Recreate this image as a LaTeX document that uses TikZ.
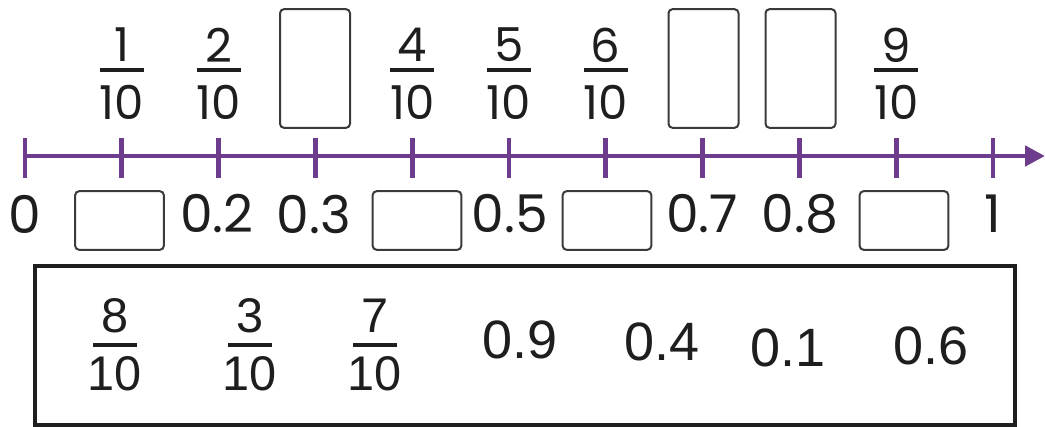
\documentclass[tikz,border=0pt]{standalone}
\usepackage{fontspec}
\setmainfont{Poppins}
\newfontfamily\arialf{Liberation Sans}
\usetikzlibrary{arrows.meta}
\definecolor{axispurple}{HTML}{6E3C8C}
\definecolor{boxgray}{HTML}{3A3A3A}
\definecolor{inkblack}{HTML}{1E1E1E}
\begin{document}
\begin{tikzpicture}[x=0.75pt,y=-0.75pt,
  topnum/.style={font=\fontsize{35}{35}\selectfont, inner sep=0pt, text=inkblack},
  botlab/.style={font=\fontsize{39}{39}\selectfont, inner sep=0pt, text=inkblack},
  fracbar/.style={line width=3pt, draw=inkblack},
  tickline/.style={line width=3.6pt, draw=axispurple},
  axisline/.style={line width=3.6pt, draw=axispurple, -{Triangle[length=15pt,width=15pt]}},
  tallbox/.style={draw=boxgray, line width=1.5pt, rounded corners=3pt, minimum width=52.5pt, minimum height=89pt, inner sep=0pt},
  widebox/.style={draw=boxgray, line width=1.5pt, rounded corners=3pt, minimum width=66.5pt, minimum height=44pt, inner sep=0pt},
  bigbox/.style={draw=inkblack, line width=3pt},
  boxfrac/.style={font=\arialf\fontsize{36.5}{36.5}\selectfont, inner sep=0pt, text=inkblack},
  boxdec/.style={font=\arialf\fontsize{40.5}{40.5}\selectfont, inner sep=0pt, text=inkblack},
  boxbar/.style={line width=2.4pt, draw=inkblack}]
\useasboundingbox (0,0) rectangle (1045,427);

% number line
\coordinate (axstart) at (25,156);
\coordinate (axend) at (1045,156);
\draw[axisline] (axstart) -- (axend);
\foreach \k in {0,...,10}{
  \draw[tickline] ({25+96.8*\k},138) -- ({25+96.8*\k},178);
}

% fractions above the line
\foreach \k in {1,2,4,5,6,9}{
  \node[topnum] (tn\k) at ({25+96.8*\k},45) {\k};
  \draw[fracbar] ({25+96.8*\k-22},70) -- ({25+96.8*\k+22},70);
  \node[topnum] (td\k) at ({25+96.8*\k},102) {10};
}

% empty boxes above the line
\node[tallbox] (tb3) at (315,68.5) {};
\node[tallbox] (tb7) at (703.5,68.5) {};
\node[tallbox] (tb8) at (800.5,68.5) {};

% labels below the line
\node[botlab] (l0) at (25,214) {0};
\node[botlab] (l2) at (217,214) {0.2};
\node[botlab] (l3) at (314,214) {0.3};
\node[botlab] (l5) at (510,214) {0.5};
\node[botlab] (l7) at (702,214) {0.7};
\node[botlab] (l8) at (800,214) {0.8};
\node[botlab] (l10) at (993,214) {1};

% empty boxes below the line
\node[widebox] (bb1) at (119.5,220.5) {};
\node[widebox] (bb4) at (417,220.5) {};
\node[widebox] (bb6) at (607,220.5) {};
\node[widebox] (bb9) at (904,220.5) {};

% answer bank box
\draw[bigbox] (35,266) rectangle (1015,425);
\foreach \n/\x in {8/115,3/250,7/375}{
  \node[boxfrac] (cn\n) at (\x,315.5) {\n};
  \draw[boxbar] ({\x-22},345) -- ({\x+22},345);
  \node[boxfrac] (cd\n) at (\x,373.5) {10};
}
\node[boxdec] (d9) at (520,340) {0.9};
\node[boxdec] (d4) at (662,342) {0.4};
\node[boxdec] (d1) at (788,348) {0.1};
\node[boxdec] (d6) at (931,346) {0.6};
\end{tikzpicture}
\end{document}
